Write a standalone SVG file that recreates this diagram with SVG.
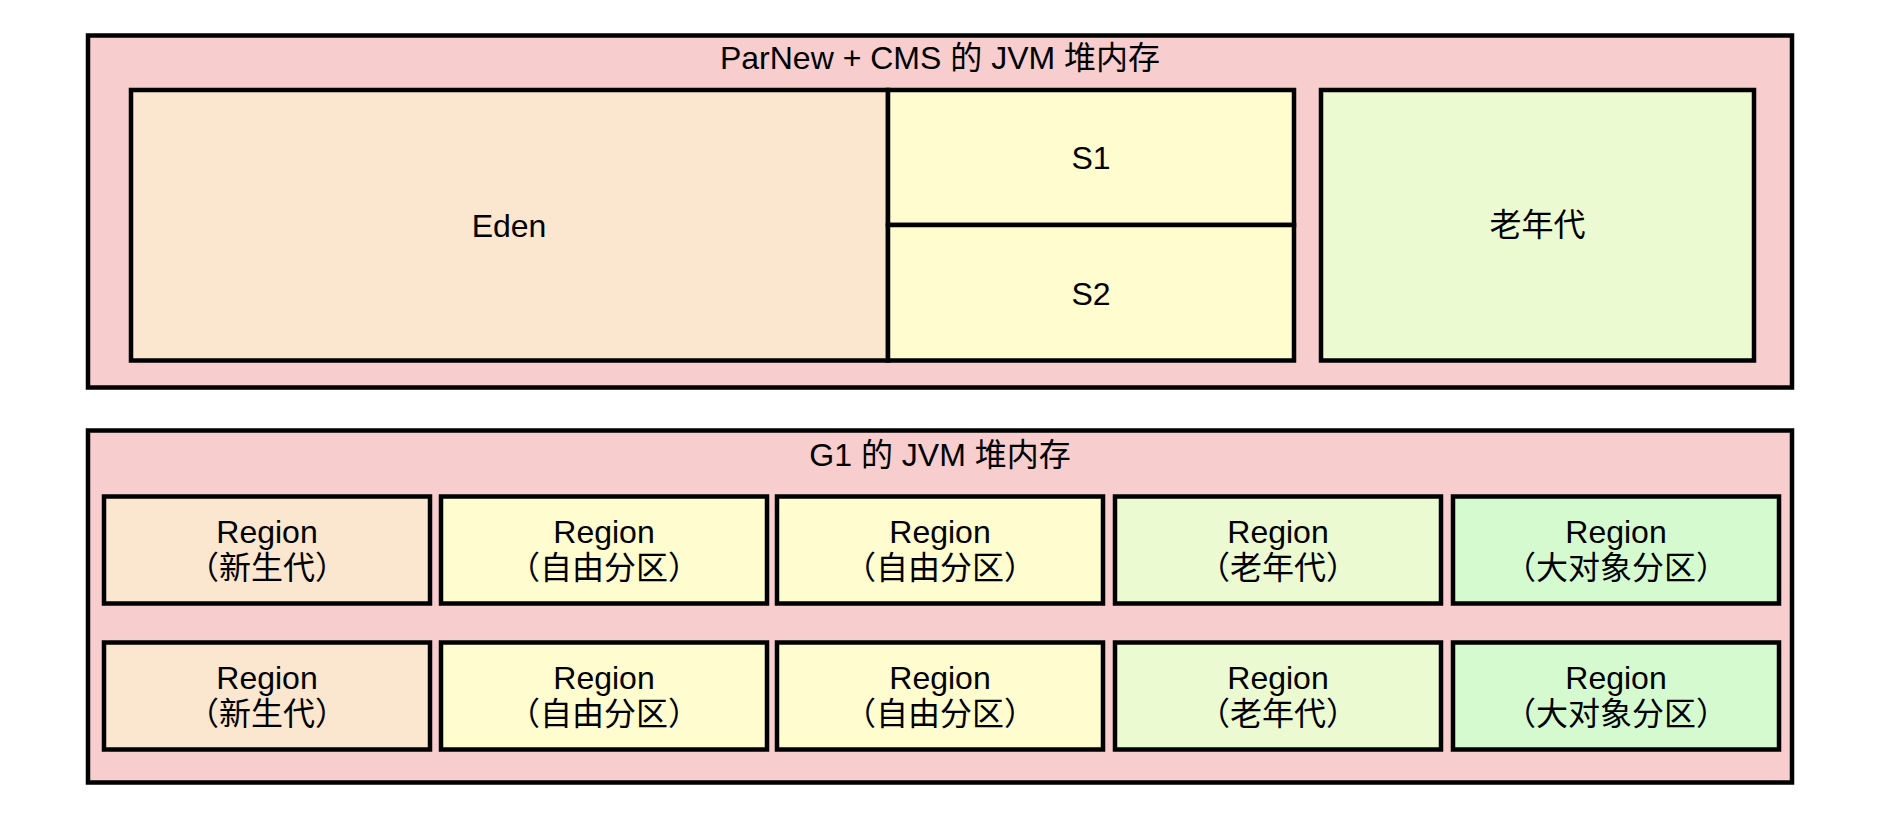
<svg xmlns="http://www.w3.org/2000/svg" width="1888" height="824" viewBox="0 0 1888 824">
<style>
text{font-family:"Liberation Sans","Noto Sans CJK SC",sans-serif;font-size:32px;fill:#000;text-anchor:middle;dominant-baseline:central}
rect{stroke:#000;stroke-width:4.5}
.heap{fill:#f7cdcd}
.young{fill:#fbe6cf}
.free{fill:#fffccf}
.old{fill:#ebfad0}
.big{fill:#d6fad0}
</style>
<rect width="1888" height="824" fill="#ffffff" style="stroke:none"/>
<g id="parnew-cms-heap">
<rect class="heap" x="88" y="35.5" width="1704" height="352"/>
<text x="940" y="58">ParNew + CMS 的 JVM 堆内存</text>
</g>
<g id="eden">
<rect class="young" x="131" y="90" width="757" height="270.5"/>
<text x="509" y="226">Eden</text>
</g>
<g id="s1">
<rect class="free" x="888" y="90" width="406" height="135"/>
<text x="1091" y="158">S1</text>
</g>
<g id="s2">
<rect class="free" x="888" y="225" width="406" height="135.5"/>
<text x="1091" y="294">S2</text>
</g>
<g id="old-gen">
<rect class="old" x="1321" y="90" width="433" height="270.5"/>
<text x="1537.5" y="225">老年代</text>
</g>
<g id="g1-heap">
<rect class="heap" x="88" y="430.5" width="1704" height="352"/>
<text x="940" y="455">G1 的 JVM 堆内存</text>
</g>
<g id="r1c1"><rect class="young" x="104" y="496.5" width="326" height="107"/><text x="267" y="532">Region</text><text x="267" y="568">（新生代）</text></g>
<g id="r1c2"><rect class="free" x="441" y="496.5" width="326" height="107"/><text x="604" y="532">Region</text><text x="604" y="568">（自由分区）</text></g>
<g id="r1c3"><rect class="free" x="777" y="496.5" width="326" height="107"/><text x="940" y="532">Region</text><text x="940" y="568">（自由分区）</text></g>
<g id="r1c4"><rect class="old" x="1115" y="496.5" width="326" height="107"/><text x="1278" y="532">Region</text><text x="1278" y="568">（老年代）</text></g>
<g id="r1c5"><rect class="big" x="1453" y="496.5" width="326" height="107"/><text x="1616" y="532">Region</text><text x="1616" y="568">（大对象分区）</text></g>
<g id="r2c1"><rect class="young" x="104" y="642.5" width="326" height="107"/><text x="267" y="678">Region</text><text x="267" y="714">（新生代）</text></g>
<g id="r2c2"><rect class="free" x="441" y="642.5" width="326" height="107"/><text x="604" y="678">Region</text><text x="604" y="714">（自由分区）</text></g>
<g id="r2c3"><rect class="free" x="777" y="642.5" width="326" height="107"/><text x="940" y="678">Region</text><text x="940" y="714">（自由分区）</text></g>
<g id="r2c4"><rect class="old" x="1115" y="642.5" width="326" height="107"/><text x="1278" y="678">Region</text><text x="1278" y="714">（老年代）</text></g>
<g id="r2c5"><rect class="big" x="1453" y="642.5" width="326" height="107"/><text x="1616" y="678">Region</text><text x="1616" y="714">（大对象分区）</text></g>
</svg>
